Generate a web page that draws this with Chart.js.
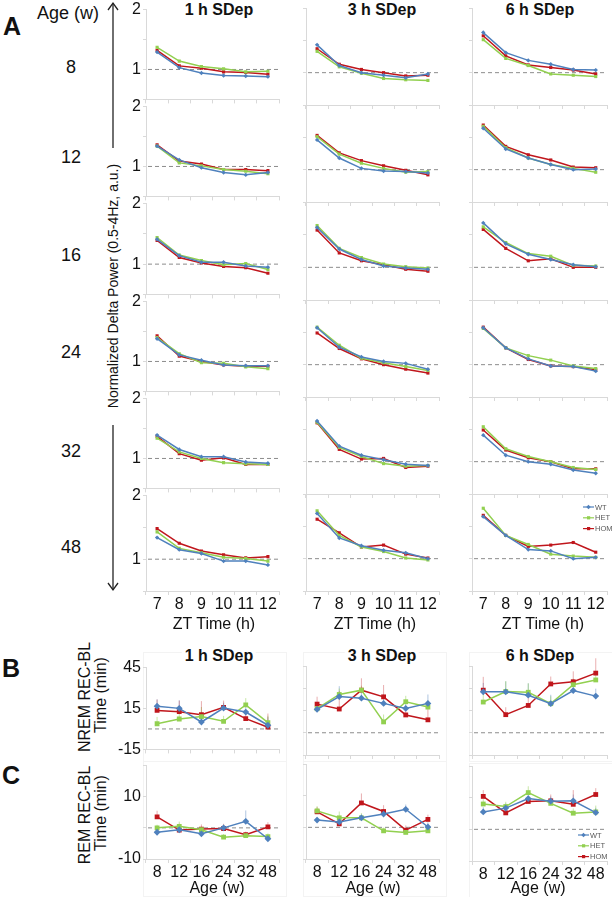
<!DOCTYPE html>
<html>
<head>
<meta charset="utf-8">
<script src="https://cdn.jsdelivr.net/npm/chart.js@4.4.1/dist/chart.umd.min.js"></script>
<style>
  body { margin: 0; width: 612px; height: 897px; position: relative; background: #fff; overflow: hidden;
         font-family: "Liberation Sans", Arial, sans-serif; color: #111; }
  canvas { position: absolute; }
  .t { position: absolute; white-space: nowrap; transform: translate(-50%, -50%); line-height: 1; }
  .rot { transform: translate(-50%, -50%) rotate(-90deg); }
  .panel { font-size: 25px; font-weight: bold; }
  .ttl { font-size: 16px; font-weight: bold; background: #fff; padding: 1px 3px; z-index: 5; }
  .ax { font-size: 16px; }
  .age { font-size: 18px; }
  .frame { position: absolute; border: 1px solid #f3f3f3; }
</style>
</head>
<body>
<div class="t panel" style="left:12px;top:26px">A</div>
<div class="t panel" style="left:11px;top:668px">B</div>
<div class="t panel" style="left:11px;top:775px">C</div>
<div class="t" style="left:68px;top:13px;font-size:18px">Age (w)</div>
<div id="ages"></div>

<svg style="position:absolute;left:100px;top:0" width="26" height="600">
  <line x1="13" y1="3" x2="13" y2="148" stroke="#222" stroke-width="1.3"/>
  <polyline points="8,10 13,3 18,10" fill="none" stroke="#222" stroke-width="1.3"/>
  <line x1="13" y1="425" x2="13" y2="590" stroke="#222" stroke-width="1.3"/>
  <polyline points="8,583 13,590 18,583" fill="none" stroke="#222" stroke-width="1.3"/>
</svg>
<div class="t rot" style="left:113px;top:286px;font-size:14px">Normalized Delta Power (0.5-4Hz, a.u.)</div>

<div class="t rot" style="left:85px;top:697px;font-size:16px">NREM REC-BL</div>
<div class="t rot" style="left:101px;top:695px;font-size:16px">Time (min)</div>
<div class="t rot" style="left:85px;top:815px;font-size:16px">REM REC-BL</div>
<div class="t rot" style="left:101px;top:813px;font-size:16px">Time (min)</div>

<div id="charts"></div>
<div id="titles"></div>

<script>
// ---- data ----
const ztHours = ['7', '8', '9', '10', '11', '12'];
const ageWeeks = ['8', '12', '16', '24', '32', '48'];
const sdepTitles = ['1 h SDep', '3 h SDep', '6 h SDep'];
const genotypes = ['WT', 'HET', 'HOM'];

// normalized delta power, one row per age (8, 12, 16, 24, 32, 48 w), columns ZT7..ZT12
const deltaWT1h = [
  [1.29, 1.03, 0.94, 0.90, 0.89, 0.88],
  [1.34, 1.11, 0.98, 0.90, 0.86, 0.90],
  [1.41, 1.14, 1.03, 1.03, 0.97, 0.95],
  [1.38, 1.11, 1.02, 0.94, 0.93, 0.93],
  [1.39, 1.15, 1.03, 1.03, 0.94, 0.92],
  [1.34, 1.15, 1.09, 0.97, 0.97, 0.91]];
const deltaHET1h = [
  [1.37, 1.14, 1.05, 1.01, 0.96, 0.97],
  [1.34, 1.06, 1.01, 0.95, 0.92, 0.88],
  [1.44, 1.15, 1.06, 0.99, 1.01, 0.91],
  [1.40, 1.13, 0.98, 0.97, 0.91, 0.88],
  [1.34, 1.11, 1.00, 0.93, 0.91, 0.90],
  [1.43, 1.17, 1.10, 1.03, 1.01, 0.97]];
const deltaHOM1h = [
  [1.32, 1.06, 1.02, 0.96, 0.95, 0.92],
  [1.36, 1.09, 1.04, 0.95, 0.95, 0.93],
  [1.39, 1.11, 1.02, 0.96, 0.94, 0.85],
  [1.43, 1.09, 1.00, 0.94, 0.92, 0.92],
  [1.37, 1.08, 0.97, 1.01, 0.90, 0.90],
  [1.48, 1.25, 1.13, 1.07, 1.02, 1.04]];

const deltaWT3h = [
  [1.43, 1.11, 1.00, 0.96, 0.92, 0.98],
  [1.46, 1.18, 1.02, 0.98, 0.97, 0.95],
  [1.61, 1.28, 1.12, 1.02, 0.99, 0.97],
  [1.57, 1.27, 1.12, 1.05, 1.02, 0.93],
  [1.63, 1.24, 1.10, 1.03, 0.96, 0.94],
  [1.70, 1.32, 1.20, 1.13, 1.09, 1.00]];
const deltaHET3h = [
  [1.33, 1.09, 0.99, 0.91, 0.89, 0.88],
  [1.51, 1.24, 1.10, 1.02, 0.96, 0.97],
  [1.64, 1.29, 1.15, 1.05, 1.01, 0.99],
  [1.58, 1.30, 1.10, 1.03, 0.97, 0.91],
  [1.61, 1.22, 1.08, 0.97, 0.93, 0.94],
  [1.74, 1.36, 1.18, 1.11, 1.01, 0.98]];
const deltaHOM3h = [
  [1.37, 1.13, 1.05, 1.00, 0.95, 0.96],
  [1.53, 1.26, 1.14, 1.06, 0.99, 0.92],
  [1.57, 1.22, 1.10, 1.04, 0.97, 0.94],
  [1.49, 1.25, 1.09, 1.00, 0.93, 0.87],
  [1.60, 1.19, 1.04, 1.05, 0.91, 0.93],
  [1.61, 1.40, 1.18, 1.21, 1.07, 1.01]];

const deltaWT6h = [
  [1.62, 1.31, 1.19, 1.13, 1.05, 1.04],
  [1.64, 1.32, 1.18, 1.08, 1.00, 1.01],
  [1.68, 1.36, 1.20, 1.12, 1.04, 1.01],
  [1.57, 1.26, 1.09, 0.98, 0.97, 0.90],
  [1.41, 1.10, 1.00, 0.96, 0.87, 0.82],
  [1.65, 1.36, 1.14, 1.12, 1.00, 1.02]];
const deltaHET6h = [
  [1.51, 1.22, 1.11, 0.98, 0.96, 0.94],
  [1.67, 1.34, 1.18, 1.08, 1.02, 0.96],
  [1.62, 1.38, 1.21, 1.17, 1.03, 1.02],
  [1.56, 1.26, 1.14, 1.07, 0.98, 0.94],
  [1.54, 1.20, 1.08, 1.00, 0.91, 0.88],
  [1.78, 1.36, 1.22, 1.07, 1.04, 1.02]];
const deltaHOM6h = [
  [1.57, 1.26, 1.12, 1.08, 1.04, 0.98],
  [1.69, 1.36, 1.23, 1.15, 1.04, 1.03],
  [1.58, 1.29, 1.10, 1.13, 1.00, 1.00],
  [1.58, 1.26, 1.08, 0.98, 0.97, 0.92],
  [1.49, 1.18, 1.06, 1.00, 0.89, 0.89],
  [1.67, 1.36, 1.19, 1.21, 1.25, 1.10]];

// NREM REC-BL time (min), rows: 1 h, 3 h, 6 h SDep; columns: age 8..48 w
const nremWT  = [[16.7, 15.1, 5.1, 15.3, 12.4, 2.7], [15.8, 24.4, 23.3, 19.8, 16.4, 19.8], [27.6, 27.6, 25.3, 19.6, 28.4, 24.7]];
const nremHET = [[3.8, 7.3, 9.1, 5.6, 17.6, 4.7], [16.2, 25.8, 28.7, 7.3, 20.9, 17.3], [20.7, 27.8, 27.3, 19.6, 32.4, 35.6]];
const nremHOM = [[13.6, 12.7, 10.4, 15.8, 7.6, 1.3], [19.3, 16.0, 28.7, 24.2, 12.0, 8.7], [28.7, 12.2, 18.4, 32.9, 34.4, 40.2]];
const nremErrWT  = [[5, 6, 5, 4, 4, 6], [5, 7, 5, 6, 5, 6], [6, 7, 8, 6, 5, 5]];
const nremErrHET = [[5, 4, 7, 4, 5, 5], [4, 4, 3, 5, 4, 4], [6, 7, 6, 5, 4, 4]];
const nremErrHOM = [[8, 8, 10, 5, 5, 10], [5, 12, 8, 8, 6, 10], [9, 5, 5, 5, 7, 10]];

// REM REC-BL time (min)
const remWT  = [[-1.4, -0.6, -1.9, 0.0, 2.1, -3.5], [2.3, 1.7, 3.0, 4.2, 5.7, 0.1], [5.5, 6.7, 9.7, 8.9, 9.0, 5.3]];
const remHET = [[0.0, 0.5, -0.6, -3.0, -2.5, -2.8], [5.2, 3.0, 3.0, -1.1, -1.6, -1.1], [8.0, 7.2, 11.6, 8.2, 5.1, 5.5]];
const remHOM = [[3.5, -0.7, -0.4, -0.2, -2.2, 0.3], [4.9, 1.1, 7.7, 5.0, -0.9, 2.5], [10.4, 5.2, 8.8, 9.0, 7.9, 11.0]];
const remErrWT  = [[1, 1, 1, 1, 3.5, 1], [1, 1, 1, 1, 1.5, 1.5], [1.5, 1.5, 1.5, 1.5, 2, 1.5]];
const remErrHET = [[1, 1.5, 1, 1, 1, 1], [1.5, 2, 1.5, 1, 1, 1], [1.5, 1.5, 2, 1.5, 1.5, 2]];
const remErrHOM = [[2, 2, 1.5, 1.5, 1, 1.5], [1.5, 1.5, 3, 2, 1.5, 1.5], [2, 1.5, 1.5, 2, 4.5, 2]];

// ---- styles ----
const colors = ['#4f81bd', '#92d050', '#c0161c'];
const errColors = ['rgba(79,129,189,0.45)', 'rgba(146,208,80,0.5)', 'rgba(192,22,28,0.35)'];
const markers = ['rectRot', 'rect', 'rect'];
const AXIS = '#d9d9d9';
const FONT = '"Liberation Sans", Arial, sans-serif';
Chart.defaults.font.family = FONT;
Chart.defaults.color = '#111';

const colLeft = [146, 306, 472];
const colWidth = [133, 133, 135];
const rowTop = [8, 105, 202, 300, 397, 494, 591];
const PT = 10, PR = 8;

// ---- plugins ----
const refLine = {
  id: 'refLine',
  beforeDatasetsDraw(chart, args, opts) {
    const { ctx, chartArea } = chart;
    const y = chart.scales.y.getPixelForValue(opts.value);
    ctx.save();
    ctx.strokeStyle = '#8c8c8c';
    ctx.lineWidth = 1;
    ctx.setLineDash([4, 3]);
    ctx.beginPath();
    ctx.moveTo(chartArea.left + 2, y);
    ctx.lineTo(chartArea.right - 1, y);
    ctx.stroke();
    ctx.restore();
  }
};

const errBars = {
  id: 'errBars',
  beforeDatasetsDraw(chart) {
    const ctx = chart.ctx;
    chart.data.datasets.forEach((ds, i) => {
      if (!ds.errors) return;
      chart.getDatasetMeta(i).data.forEach((pt, j) => {
        const yTop = chart.scales.y.getPixelForValue(ds.data[j] + ds.errors[j]);
        ctx.save();
        ctx.strokeStyle = ds.errColor;
        ctx.lineWidth = 1;
        ctx.beginPath();
        ctx.moveTo(pt.x, pt.y);
        ctx.lineTo(pt.x, yTop);
        ctx.stroke();
        ctx.restore();
      });
    });
  }
};

const miniLegend = {
  id: 'miniLegend',
  afterDatasetsDraw(chart, args, opts) {
    const { ctx, chartArea } = chart;
    chart.data.datasets.forEach((ds, i) => {
      const x = chartArea.left + opts.x;
      const y = chartArea.top + opts.y + i * opts.dy;
      ctx.save();
      ctx.strokeStyle = ds.borderColor;
      ctx.fillStyle = ds.borderColor;
      ctx.lineWidth = 1.2;
      ctx.beginPath();
      ctx.moveTo(x, y);
      ctx.lineTo(x + 11, y);
      ctx.stroke();
      ctx.beginPath();
      if (ds.pointStyle === 'rectRot') {
        ctx.moveTo(x + 5.5, y - 2.2); ctx.lineTo(x + 7.7, y); ctx.lineTo(x + 5.5, y + 2.2); ctx.lineTo(x + 3.3, y);
        ctx.closePath();
      } else {
        ctx.rect(x + 4, y - 1.6, 3.2, 3.2);
      }
      ctx.fill();
      ctx.fillStyle = '#595959';
      ctx.font = '7.5px ' + FONT;
      ctx.textBaseline = 'middle';
      ctx.fillText(ds.label, x + 12, y + 0.5);
      ctx.restore();
    });
  }
};

// ---- layout helpers ----
function addText(parent, text, x, y, cls) {
  const d = document.createElement('div');
  d.className = 't ' + cls;
  d.style.left = x + 'px';
  d.style.top = y + 'px';
  d.textContent = text;
  document.getElementById(parent).appendChild(d);
}

function addFrame(x, y, w, h) {
  const d = document.createElement('div');
  d.className = 'frame';
  Object.assign(d.style, { left: x + 'px', top: y + 'px', width: w + 'px', height: h + 'px' });
  document.getElementById('charts').appendChild(d);
}

function makeChart(o) {
  const yW = 40;
  const cv = document.createElement('canvas');
  cv.width = yW + o.w + PR;
  cv.height = PT + o.h + o.xH;
  cv.style.left = (o.left - yW) + 'px';
  cv.style.top = (o.top - PT) + 'px';
  document.getElementById('charts').appendChild(cv);

  const datasets = o.series.map((vals, g) => ({
    label: genotypes[g],
    data: vals,
    errors: o.errors ? o.errors[g] : null,
    errColor: errColors[g],
    borderColor: colors[g],
    backgroundColor: colors[g],
    pointBackgroundColor: colors[g],
    pointBorderColor: colors[g],
    pointBorderWidth: 0,
    pointStyle: markers[g],
    pointRadius: o.pointR,
    borderWidth: 1.5,
    tension: 0
  }));

  new Chart(cv, {
    type: 'line',
    data: { labels: o.labels, datasets },
    options: {
      responsive: false,
      animation: false,
      events: [],
      layout: { padding: { top: PT, right: PR, left: 0, bottom: 0 } },
      plugins: {
        legend: { display: false },
        tooltip: { enabled: false },
        refLine: { value: o.ref },
        miniLegend: o.legend || false
      },
      scales: {
        x: {
          type: 'category',
          offset: true,
          grid: { offset: true, drawOnChartArea: false, tickLength: 4, color: AXIS },
          border: { color: AXIS },
          ticks: { display: o.showX, autoSkip: false, maxRotation: 0, padding: 0, font: { size: 16 }, color: '#111' },
          afterFit: s => { s.height = o.xH; }
        },
        y: {
          min: o.min, max: o.max,
          grid: { drawOnChartArea: false, tickLength: 3, color: AXIS },
          border: { color: AXIS },
          ticks: {
            display: o.showY, stepSize: o.step, padding: 2,
            font: { size: o.yFont }, color: '#111',
            callback: v => (o.yShown.includes(v) ? String(v) : '')
          },
          afterFit: s => { s.width = yW; }
        }
      }
    },
    plugins: [refLine, errBars, miniLegend]
  });
}

// ---- row labels & titles ----
const ageLabelY = [67, 157, 255, 352, 451, 547];
ageWeeks.forEach((a, i) => addText('ages', a, 71, ageLabelY[i], 'age'));

const titleX = [219, 382, 540];
sdepTitles.forEach((s, c) => {
  addText('titles', s, titleX[c], 10, 'ttl');
  addText('titles', s, titleX[c], 656, 'ttl');
});
const ztTitleX = [214, 375, 543];
const ageTitleX = [217, 373, 538];
ztTitleX.forEach(x => addText('titles', 'ZT Time (h)', x, 624, 'ax'));
ageTitleX.forEach(x => addText('titles', 'Age (w)', x, 888, 'ax'));

// ---- panel A ----
const deltaBySdep = [
  [deltaWT1h, deltaHET1h, deltaHOM1h],
  [deltaWT3h, deltaHET3h, deltaHOM3h],
  [deltaWT6h, deltaHET6h, deltaHOM6h]
];
for (let c = 0; c < 3; c++) {
  for (let r = 0; r < 6; r++) {
    const last = r === 5;
    makeChart({
      left: colLeft[c], top: rowTop[r], w: colWidth[c], h: rowTop[r + 1] - rowTop[r],
      xH: last ? 26 : 6, showX: last, showY: c === 0,
      labels: ztHours,
      series: deltaBySdep[c].map(g => g[r]),
      min: 0.5, max: 2, step: 0.5, yShown: [1, 2], yFont: 16,
      ref: 1, pointR: 2.2,
      legend: (last && c === 2) ? { x: 111, y: 13, dy: 10.8 } : null
    });
  }
}

// ---- panel B ----
for (let c = 0; c < 3; c++) {
  addFrame(colLeft[c] - 3, 652, colWidth[c] + 9, 108);
  makeChart({
    left: colLeft[c], top: 666, w: colWidth[c], h: 89,
    xH: 6, showX: false, showY: c === 0,
    labels: ageWeeks,
    series: [nremWT[c], nremHET[c], nremHOM[c]],
    errors: [nremErrWT[c], nremErrHET[c], nremErrHOM[c]],
    min: -15, max: 45, step: 15, yShown: [-15, 15, 45], yFont: 16,
    ref: 0, pointR: 3.4
  });
}

// ---- panel C ----
const cTop = [764, 764, 766];
for (let c = 0; c < 3; c++) {
  addFrame(colLeft[c] - 3, cTop[c] - 3, colWidth[c] + 9, 134);
  makeChart({
    left: colLeft[c], top: cTop[c], w: colWidth[c], h: 95,
    xH: 26, showX: true, showY: c === 0,
    labels: ageWeeks,
    series: [remWT[c], remHET[c], remHOM[c]],
    errors: [remErrWT[c], remErrHET[c], remErrHOM[c]],
    min: -10, max: 20, step: 10, yShown: [-10, 10], yFont: 16,
    ref: 0, pointR: 3.4,
    legend: c === 2 ? { x: 106, y: 69, dy: 10.8 } : null
  });
}
</script>
</body>
</html>
